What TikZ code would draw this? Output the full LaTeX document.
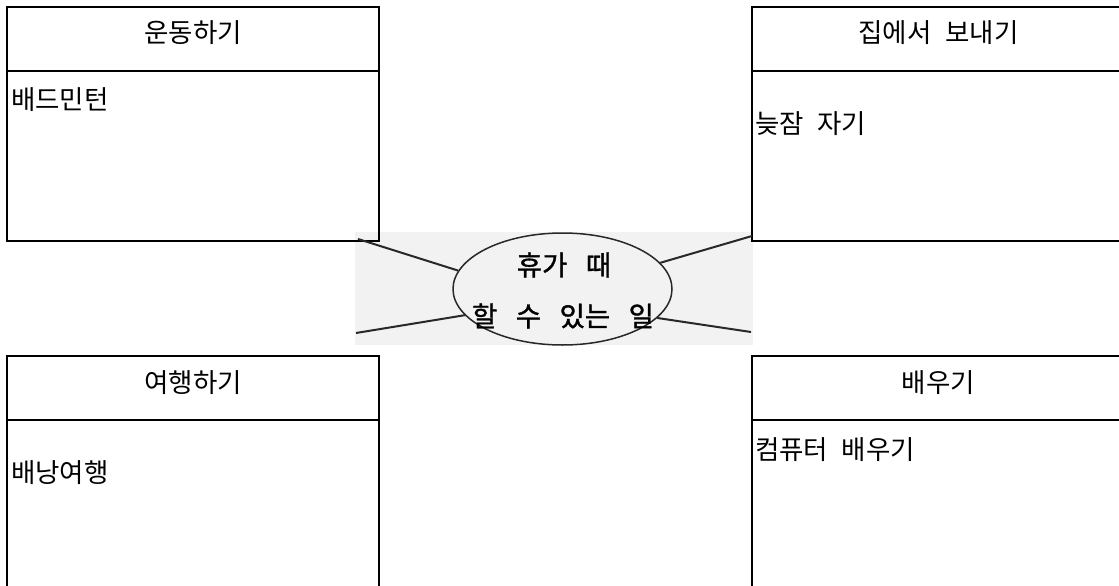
\documentclass[tikz,border=0pt]{standalone}
\usepackage{fontspec}
\usetikzlibrary{shapes.geometric}
\newfontfamily\kr[WordSpace=2.3]{Noto Sans CJK KR}
\newfontfamily\krb[WordSpace=3.0,FakeBold=1.2]{Noto Sans CJK KR}
\definecolor{bgray}{RGB}{242,242,242}
\definecolor{lgray}{RGB}{40,40,40}
\begin{document}
\begin{tikzpicture}[x=1pt,y=-1pt,
  frame/.style={draw=black,line width=1.2pt},
  txt/.style={font=\kr\fontsize{26.5}{30}\selectfont,inner sep=0pt},
  ctxt/.style={font=\krb\fontsize{27.5}{30}\selectfont,inner sep=0pt},
  spoke/.style={draw=lgray,line width=2pt}]
\useasboundingbox (0,0) rectangle (1119,586);
\begin{scope}
\clip (0,0) rectangle (1119,586);
% center background
\fill[bgray] (355,232) rectangle (753,345);
% boxes
\draw[frame] (7,7) rectangle (379,241); \draw[frame] (7,71) -- (379,71);
\draw[frame] (752,7) rectangle (1130,241); \draw[frame] (752,71) -- (1130,71);
\draw[frame] (7,356) rectangle (379,600); \draw[frame] (7,420) -- (379,420);
\draw[frame] (752,356) rectangle (1130,600); \draw[frame] (752,420) -- (1130,420);
\end{scope}
% center ellipse
\node[draw=lgray,line width=1.5pt,ellipse,minimum width=219pt,minimum height=112pt,inner sep=0pt] (c) at (562.5,289) {};
\coordinate (ul) at (358,239);
\coordinate (ll) at (356,333);
\coordinate (ur) at (752,236);
\coordinate (lr) at (751,332);
\draw[spoke] (ul) -- (c.170);
\draw[spoke] (ll) -- (c.-165);
\draw[spoke] (ur) -- (c.15);
\draw[spoke] (lr) -- (c.-17);
\node[ctxt] (c1) at (564,265) {휴가 때};
\node[ctxt] (c2) at (563,316) {할 수 있는 일};
% headers
\node[txt] (h1) at (193,33) {운동하기};
\node[txt] (h2) at (938.5,33) {집에서 보내기};
\node[txt] (h3) at (193,383) {여행하기};
\node[txt] (h4) at (938.5,383) {배우기};
% contents
\node[txt,anchor=west] (t1) at (11,100) {배드민턴};
\node[txt,anchor=west] (t2) at (755,124) {늦잠 자기};
\node[txt,anchor=west] (t3) at (11,473) {배낭여행};
\node[txt,anchor=west] (t4) at (755,450) {컴퓨터 배우기};
\end{tikzpicture}
\end{document}
